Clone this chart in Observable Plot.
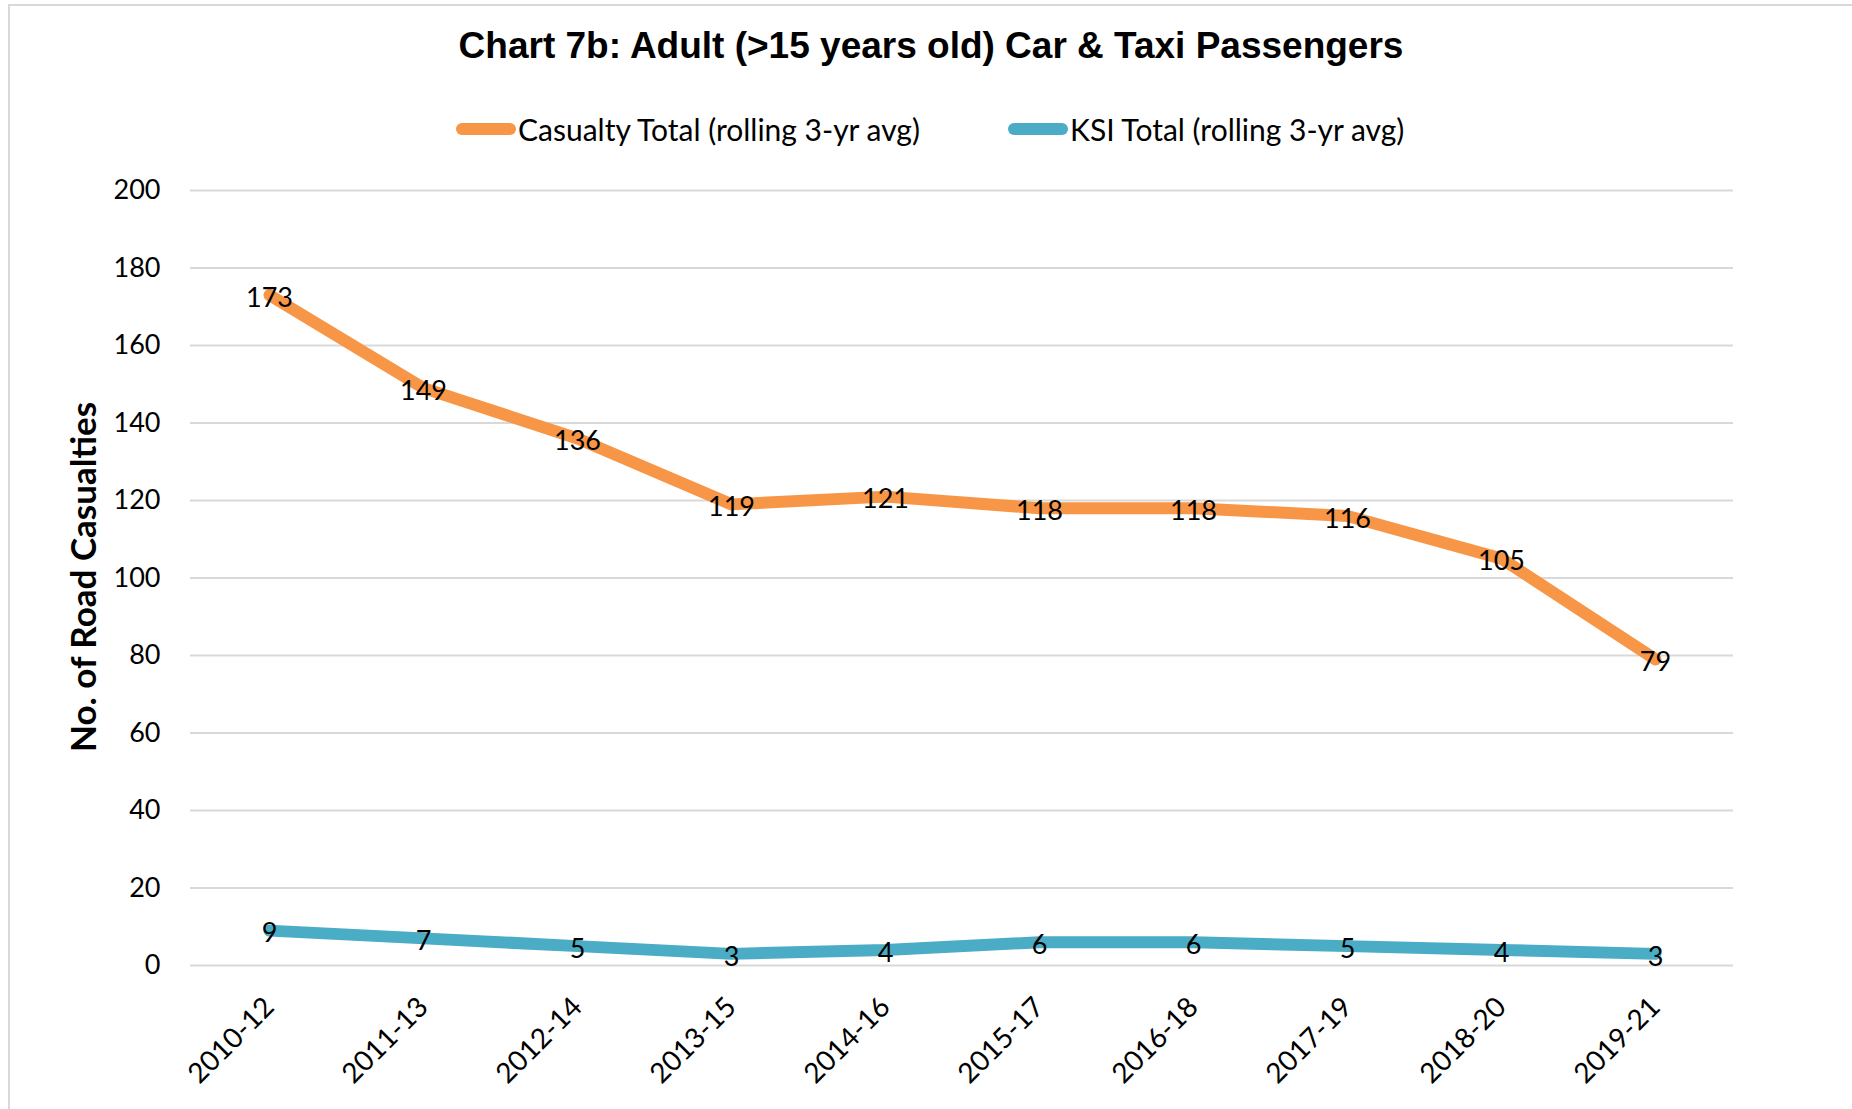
<!DOCTYPE html>
<html>
<head>
<meta charset="utf-8">
<script src="https://cdn.jsdelivr.net/npm/d3@7"></script>
<script src="https://cdn.jsdelivr.net/npm/@observablehq/plot@0.6"></script>
<style>
  html, body { margin: 0; padding: 0; background: #fff; }
  #wrap { position: relative; width: 1852px; height: 1109px; overflow: hidden; background: #fff; }
  #frame { position: absolute; left: 8px; top: 4px; width: 1900px; height: 1200px; border-left: 2px solid #d9d9d9; border-top: 2px solid #d9d9d9; }
  #title { position: absolute; left: 0; width: 1862px; top: 25px; text-align: center; font-family: "Liberation Sans", Arial, sans-serif; font-weight: bold; font-size: 37px; color: #000; }
  #legend { position: absolute; left: 0; top: 109px; width: 1852px; height: 40px; font-family: Lato, "Open Sans", sans-serif; font-size: 30px; color: #000; }
  .item { position: absolute; top: 0; display: flex; align-items: center; height: 40px; }
  .sw { display: inline-block; width: 60px; height: 12px; border-radius: 6px; margin-right: 2px; }
  #plot { position: absolute; left: 0; top: 150px; }
  #ytitle { position: absolute; left: 82px; top: 577px; transform: translate(-50%, -50%) rotate(-90deg); font-family: Lato, "Open Sans", sans-serif; font-weight: bold; font-size: 35px; white-space: nowrap; color: #000; }
</style>
</head>
<body>
<div id="wrap">
  <div id="frame"></div>
  <div id="title"></div>
  <div id="legend"></div>
  <div id="ytitle"></div>
  <div id="plot"></div>
</div>
<script>
const titleText = "Chart 7b: Adult (>15 years old) Car & Taxi Passengers";
const yTitle = "No. of Road Casualties";
const periods = ["2010-12","2011-13","2012-14","2013-15","2014-16","2015-17","2016-18","2017-19","2018-20","2019-21"];
const casualtyTotal = [173,149,136,119,121,118,118,116,105,79];
const ksiTotal = [9,7,5,3,4,6,6,5,4,3];
const seriesNames = ["Casualty Total (rolling 3-yr avg)", "KSI Total (rolling 3-yr avg)"];
const seriesColors = ["#F79646", "#4BACC6"];
const yTicks = [0,20,40,60,80,100,120,140,160,180,200];

document.getElementById("title").textContent = titleText;
document.getElementById("ytitle").textContent = yTitle;

const legendX = [456, 1008];
const legend = document.getElementById("legend");
seriesNames.forEach((n, i) => {
  const it = document.createElement("div");
  it.className = "item";
  it.style.left = legendX[i] + "px";
  const sw = document.createElement("span");
  sw.className = "sw";
  sw.style.background = seriesColors[i];
  const tx = document.createElement("span");
  tx.textContent = n;
  it.appendChild(sw); it.appendChild(tx);
  legend.appendChild(it);
});

const data = [];
periods.forEach((p, i) => {
  data.push({period: p, value: casualtyTotal[i], series: seriesNames[0]});
  data.push({period: p, value: ksiTotal[i], series: seriesNames[1]});
});

const chart = Plot.plot({
  width: 1852,
  height: 959,
  marginTop: 40,
  marginBottom: 144,
  marginLeft: 190,
  marginRight: 119,
  style: {fontFamily: "Lato, 'Open Sans', sans-serif", fontSize: "27px", color: "#000", background: "transparent"},
  x: {type: "point", domain: periods, padding: 0.5, label: null},
  y: {domain: [0, 200], label: null},
  color: {domain: seriesNames, range: seriesColors},
  marks: [
    Plot.ruleY(yTicks, {stroke: "#d9d9d9", strokeWidth: 2}),
    Plot.axisY({ticks: yTicks, tickSize: 0, tickPadding: 30, label: null, fontSize: 27}),
    Plot.axisX({tickSize: 0, tickRotate: -45, tickPadding: 37, label: null, fontSize: 28}),
    Plot.line(data, {x: "period", y: "value", z: "series", stroke: "series", strokeWidth: 12, strokeLinejoin: "round", strokeLinecap: "round"}),
    Plot.text(data, {x: "period", y: "value", text: d => String(d.value), fill: "#000", fontSize: 27, dy: 3})
  ]
});
document.getElementById("plot").appendChild(chart);
</script>
</body>
</html>
